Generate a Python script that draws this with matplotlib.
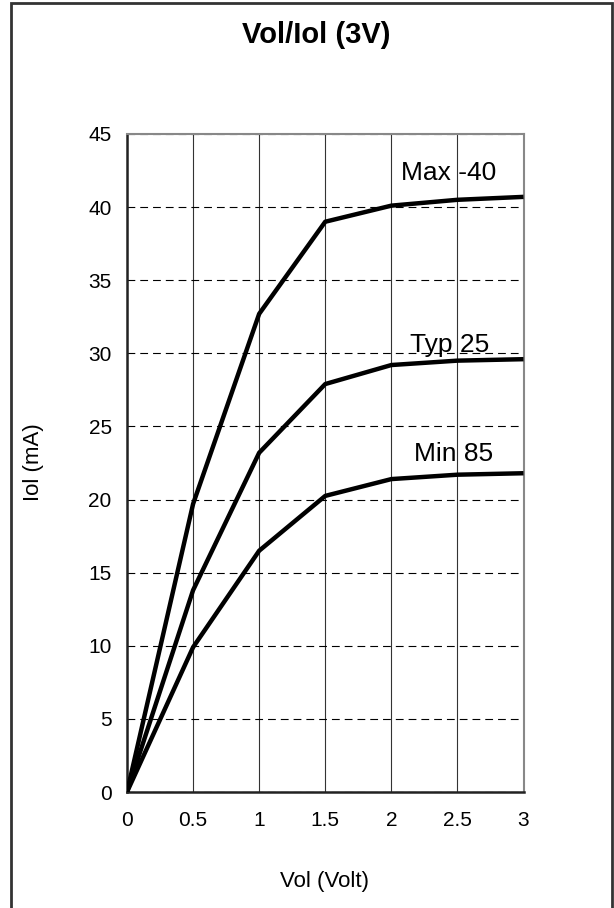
import matplotlib
matplotlib.use("Agg")
import matplotlib.pyplot as plt
from matplotlib.patches import Rectangle

plt.rcParams["font.family"] = ["Liberation Sans", "DejaVu Sans"]

# Vol (V) vs Iol (mA)
vol = [0, 0.5, 1, 1.5, 2, 2.5, 3]
iol_max = [0, 19.7, 32.7, 39.0, 40.1, 40.5, 40.7]
iol_typ = [0, 13.8, 23.2, 27.9, 29.2, 29.5, 29.6]
iol_min = [0, 9.9, 16.5, 20.25, 21.4, 21.7, 21.8]

curve_labels = ["Max -40", "Typ 25", "Min 85"]
label_pos = [(2.43, 42.3), (2.44, 30.6), (2.47, 23.1)]

x_ticks = [0, 0.5, 1, 1.5, 2, 2.5, 3]
x_tick_labels = ["0", "0.5", "1", "1.5", "2", "2.5", "3"]
y_ticks = [0, 5, 10, 15, 20, 25, 30, 35, 40, 45]

W, H = 614, 908
fig = plt.figure(figsize=(W / 100, H / 100), dpi=100)
fig.patch.set_facecolor("white")

# outer frame (open at the bottom, as in the reference)
fig.patches.append(Rectangle((11 / W, -0.02), (612 - 11) / W, 1.02 - 3 / H,
                             transform=fig.transFigure, fill=False,
                             edgecolor="#333333", linewidth=2.0))

ax = fig.add_axes([127 / W, 1 - 792 / H, 396.5 / W, (792 - 134) / H])

for ys, lab, pos in zip([iol_max, iol_typ, iol_min], curve_labels, label_pos):
    ax.plot(vol, ys, color="black", linewidth=3.2, solid_capstyle="butt", zorder=3)
    ax.text(pos[0], pos[1], lab, fontsize=19, ha="center", va="center", zorder=4)

ax.set_xlim(0, 3)
ax.set_ylim(0, 45)
ax.set_xticks(x_ticks)
ax.set_xticklabels(x_tick_labels)
ax.set_yticks(y_ticks)

ax.grid(True, axis="x", color="#333333", linewidth=0.8, linestyle="-")
ax.grid(True, axis="y", color="black", linewidth=0.8, linestyle=(0, (7, 4.5)))
ax.set_axisbelow(True)

ax.tick_params(axis="both", length=0, labelsize=15)
ax.tick_params(axis="y", pad=11)
ax.tick_params(axis="x", pad=14)

for side in ["left", "bottom"]:
    ax.spines[side].set_color("#222222")
    ax.spines[side].set_linewidth(1.8)
for side in ["top", "right"]:
    ax.spines[side].set_color("#888888")
    ax.spines[side].set_linewidth(1.5)

fig.text(316 / W, 1 - 35 / H, "Vol/Iol (3V)", fontsize=21, fontweight="bold",
         ha="center", va="center")
fig.text(33 / W, 1 - 462 / H, "Iol (mA)", fontsize=16, rotation=90,
         ha="center", va="center")
fig.text(325 / W, 1 - 882 / H, "Vol (Volt)", fontsize=16,
         ha="center", va="center")

fig.savefig("out.png", dpi=100)
plt.close(fig)
